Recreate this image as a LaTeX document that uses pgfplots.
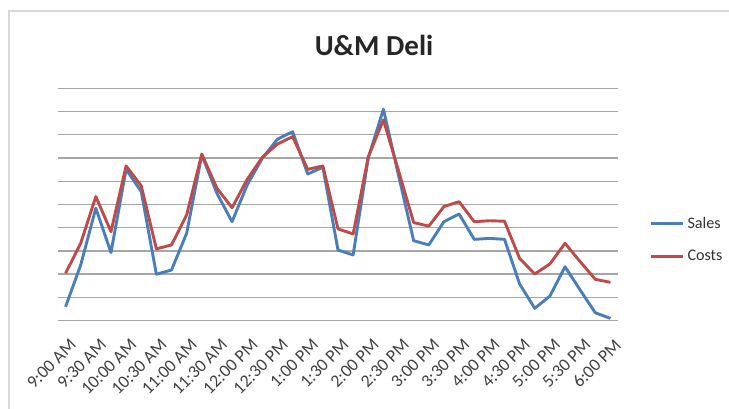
\documentclass[border=0pt]{standalone}
\usepackage{fontspec}
\setmainfont{Carlito}
\usepackage{pgfplots}
\pgfplotsset{compat=1.18}

\definecolor{salesblue}{HTML}{4A7EBB}
\definecolor{costsred}{HTML}{BE4B48}
\definecolor{gridgray}{HTML}{A6A6A6}
\definecolor{framegray}{HTML}{D9D9D9}

% one pixel of the reference = 0.62pt
\pgfplotstableread{
i sales costs
0 0.60 2.04
1 2.40 3.33
2 4.84 5.34
3 2.93 3.83
4 6.51 6.66
5 5.55 5.80
6 2.00 3.09
7 2.18 3.26
8 3.76 4.55
9 7.13 7.17
10 5.48 5.70
11 4.26 4.86
12 5.84 6.08
13 6.99 7.03
14 7.81 7.60
15 8.13 7.92
16 6.31 6.51
17 6.60 6.66
18 3.04 3.95
19 2.83 3.73
20 7.00 7.05
21 9.10 8.64
22 6.25 6.45
23 3.44 4.22
24 3.26 4.07
25 4.26 4.91
26 4.59 5.12
27 3.50 4.26
28 3.54 4.30
29 3.50 4.28
30 1.58 2.68
31 0.53 2.01
32 1.06 2.44
33 2.32 3.33
34 1.32 2.54
35 0.34 1.78
36 0.10 1.65
}\deli

\begin{document}
\begin{tikzpicture}
\useasboundingbox (0,0) rectangle (451.98pt,253.58pt);
% chart frame (top and left edges visible)
\draw[framegray, line width=1.2pt] (5.6pt,0) -- (5.6pt,246.8pt) -- (451.98pt,246.8pt);
\node[font=\fontsize{18}{20}\selectfont\bfseries, text=black!85] at (231.9pt,225.5pt) {U\&M Deli};
\begin{axis}[
    at={(35.96pt,54.75pt)}, anchor=south west,
    scale only axis,
    width=347.2pt, height=144.1pt,
    xmin=-0.5, xmax=36.5,
    ymin=0, ymax=10,
    axis line style={draw=none},
    clip=false,
    ytick={0,1,...,10},
    yticklabels={},
    ymajorgrids=true,
    grid style={gridgray, line width=0.9pt},
    xtick={0,2,...,36},
    major tick length=0pt,
    tick style={draw=none},
    xticklabels={9:00 AM,9:30 AM,10:00 AM,10:30 AM,11:00 AM,11:30 AM,12:00 PM,12:30 PM,1:00 PM,1:30 PM,2:00 PM,2:30 PM,3:00 PM,3:30 PM,4:00 PM,4:30 PM,5:00 PM,5:30 PM,6:00 PM},
    xticklabel style={font=\fontsize{11}{13}\selectfont, text=black!75, xshift=5.5pt, yshift=-12.5pt, rotate=45, anchor=east, inner sep=1pt},
    legend style={at={(1.055,0.347)}, anchor=west, draw=none, fill=none,
        font=\fontsize{10}{12}\selectfont, text=black!80, row sep=8pt, inner sep=0pt},
    legend cell align=left,
    legend image code/.code={\draw[#1] (0pt,0pt) -- (20pt,0pt);},
]
\addplot[salesblue, line width=1.8pt, line join=round] table[x=i, y=sales] {\deli};
\addlegendentry{Sales}
\addplot[costsred, line width=1.8pt, line join=round] table[x=i, y=costs] {\deli};
\addlegendentry{Costs}
\end{axis}
\end{tikzpicture}
\end{document}
